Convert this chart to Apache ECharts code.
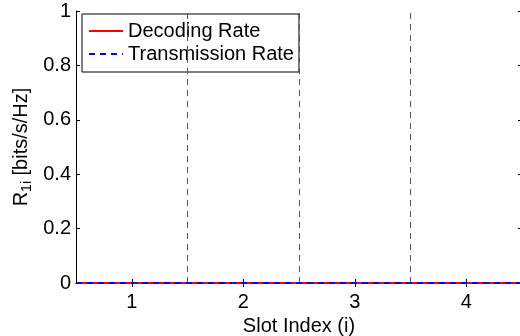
<!DOCTYPE html>
<html>
<head>
<meta charset="utf-8">
<script src="https://cdn.jsdelivr.net/npm/echarts@6/dist/echarts.min.js"></script>
<style>
  html, body { margin: 0; padding: 0; background: #fff; }
  #chart { width: 520px; height: 336px; }
</style>
</head>
<body>
<div id="chart"></div>
<script>
// Slot edges (x) and per-edge rates for the step traces
const slotEdges = [0.5, 1.5, 2.5, 3.5, 4.5];
const decodingRate = [0, 0, 0, 0, 0];
const transmissionRate = [0, 0, 0, 0, 0];
// Slot boundaries drawn as dashed separators
const slotBoundaries = [1.5, 2.5, 3.5];
// Tick positions
const xTicks = [1, 2, 3, 4];
const yMin = 0, yMax = 1, yStep = 0.2;

const FONT = 'Liberation Sans, Arial, Helvetica, sans-serif';
const chart = echarts.init(document.getElementById('chart'), null, { renderer: 'canvas' });

const pairs = (xs, ys) => xs.map((x, i) => [x, ys[i]]);
const axisLine = { show: true, lineStyle: { color: '#000', width: 1 } };

chart.setOption({
  animation: false,
  backgroundColor: '#fff',
  grid: { left: 76, top: 11, width: 446, height: 272, show: false, containLabel: false, outerBoundsMode: 'none' },
  xAxis: [
    {
      type: 'value', position: 'bottom', min: slotEdges[0], max: slotEdges[slotEdges.length - 1],
      axisLine: axisLine,
      axisTick: { show: true, inside: true, length: 4, customValues: xTicks, lineStyle: { color: '#000' } },
      axisLabel: { show: true, customValues: xTicks, color: '#000', fontSize: 20, fontFamily: FONT, margin: 9 },
      splitLine: { show: false },
      name: 'Slot Index (i)', nameLocation: 'middle', nameGap: 24,
      nameTextStyle: { color: '#000', fontSize: 20, fontFamily: FONT }
    },
    {
      type: 'value', position: 'top', min: slotEdges[0], max: slotEdges[slotEdges.length - 1],
      axisLine: axisLine,
      axisTick: { show: true, inside: true, length: 4, customValues: xTicks, lineStyle: { color: '#000' } },
      axisLabel: { show: false },
      splitLine: { show: false }
    }
  ],
  yAxis: [
    {
      type: 'value', position: 'left', min: yMin, max: yMax, interval: yStep,
      axisLine: axisLine,
      axisTick: { show: true, inside: true, length: 4, lineStyle: { color: '#000' } },
      axisLabel: { color: '#000', fontSize: 20, fontFamily: FONT, margin: 5,
        formatter: v => String(+v.toFixed(1)) },
      splitLine: { show: false }
    },
    {
      type: 'value', position: 'right', min: yMin, max: yMax, interval: yStep,
      axisLine: axisLine,
      axisTick: { show: true, inside: true, length: 4, lineStyle: { color: '#000' } },
      axisLabel: { show: false },
      splitLine: { show: false }
    }
  ],
  legend: {
    orient: 'vertical', left: 82, top: 14,
    data: ['Decoding Rate', 'Transmission Rate'],
    backgroundColor: '#fff', borderColor: '#000', borderWidth: 1, borderRadius: 0,
    padding: [7, 5, 8, 6], itemGap: 3, itemWidth: 34, itemHeight: 20,
    itemStyle: { opacity: 0 },
    textStyle: { color: '#000', fontSize: 20, fontFamily: FONT, padding: [0, 0, 0, 0] }
  },
  graphic: [{
    type: 'text', x: 21, y: 147, rotation: Math.PI / 2,
    style: {
      text: '{m|R}{s|1i}{m| [bits/s/Hz]}',
      align: 'center', verticalAlign: 'middle',
      rich: {
        m: { fontSize: 20, fontFamily: FONT, fill: '#000' },
        s: { fontSize: 14, fontFamily: FONT, fill: '#000', verticalAlign: 'bottom', padding: [12, 0, 0, 0] }
      }
    }
  }],
  series: [
    {
      name: 'Slot boundaries', type: 'line', data: [], silent: true,
      markLine: {
        silent: true, symbol: 'none', label: { show: false },
        lineStyle: { color: '#555', width: 1, type: [6, 5] },
        data: slotBoundaries.map(x => ({ xAxis: x }))
      }
    },
    {
      name: 'Decoding Rate', type: 'line', step: 'end', symbol: 'none', z: 5,
      data: pairs(slotEdges, decodingRate),
      lineStyle: { color: '#ff0000', width: 2, type: 'solid' },
      itemStyle: { color: '#ff0000' }
    },
    {
      name: 'Transmission Rate', type: 'line', step: 'end', symbol: 'none', z: 6,
      data: pairs(slotEdges, transmissionRate),
      lineStyle: { color: '#0000ff', width: 2, type: [6, 5] },
      itemStyle: { color: '#0000ff' }
    }
  ]
});
</script>
</body>
</html>
